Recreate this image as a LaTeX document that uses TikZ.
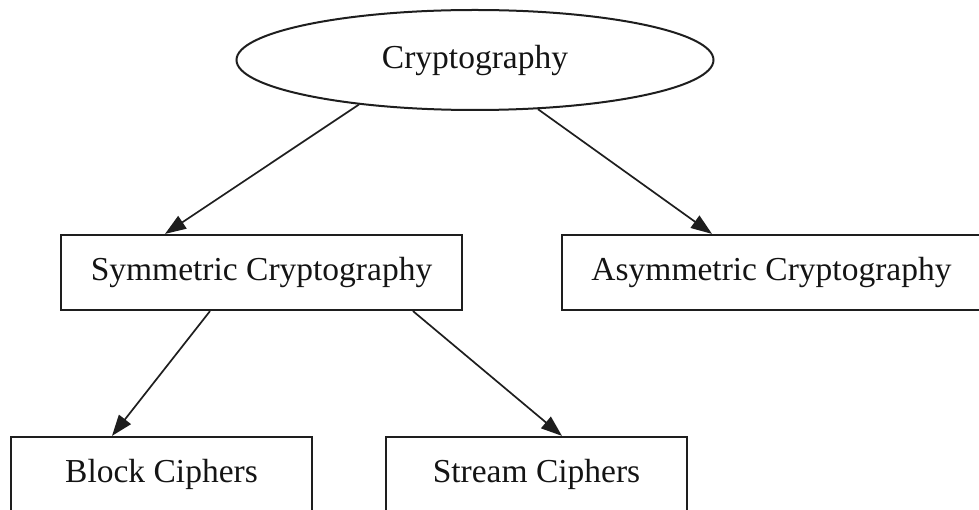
\documentclass[tikz,border=0pt]{standalone}
\usepackage{fontspec}
\setmainfont{Liberation Serif}
\usetikzlibrary{shapes.geometric,arrows.meta}
\definecolor{linec}{HTML}{1E1E1E}
\definecolor{textc}{HTML}{141414}
\begin{document}
\begin{tikzpicture}[x=1pt,y=1pt,
  lbl/.style={font=\fontsize{33.5}{40}\selectfont, text=textc},
  box/.style={lbl, draw=linec, line width=2.2pt, rectangle, minimum height=75pt, inner sep=0pt},
  oval/.style={lbl, draw=linec, line width=2pt, ellipse, minimum width=477pt, minimum height=100pt, inner sep=0pt},
  arr/.style={draw=linec, line width=1.7pt, -{Triangle[length=21pt,width=15pt]}}]
\useasboundingbox (0,0) rectangle (979,509);
\node[oval] (crypto) at (475,449) {Cryptography};
\node[box, minimum width=401pt] (sym) at (261.5,236.5) {Symmetric Cryptography};
\node[box, minimum width=419pt] (asym) at (771.5,236.5) {Asymmetric Cryptography};
\node[box, minimum width=301pt] (block) at (161.5,34.5) {Block Ciphers};
\node[box, minimum width=301pt] (stream) at (536.5,34.5) {Stream Ciphers};
\draw[arr] (crypto.201.3) -- ([xshift=-96.5pt]sym.north);
\draw[arr] (crypto.322.1) -- ([xshift=-59.5pt]asym.north);
\draw[arr] ([xshift=-51.5pt]sym.south) -- ([xshift=-49.5pt]block.north);
\draw[arr] ([xshift=151.5pt]sym.south) -- ([xshift=25.5pt]stream.north);
\end{tikzpicture}
\end{document}
